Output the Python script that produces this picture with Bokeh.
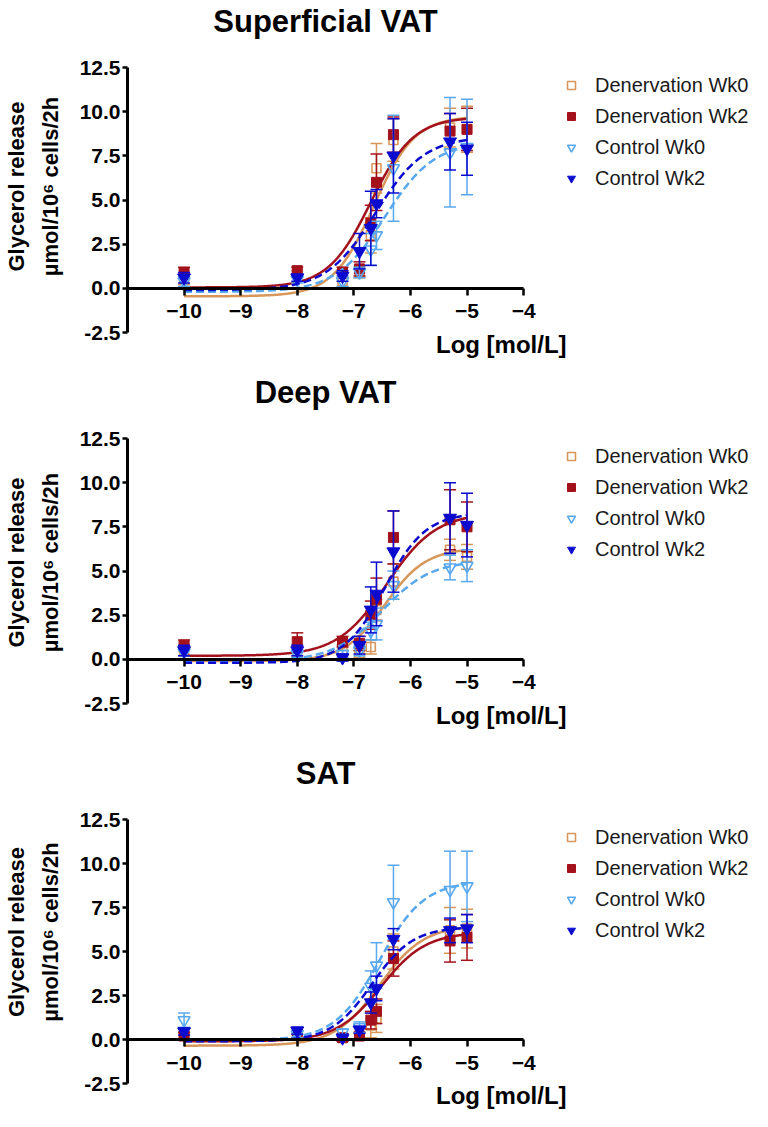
import numpy as np
from bokeh.plotting import figure
from bokeh.models import Range1d, FixedTicker, PrintfTickFormatter, Legend, LegendItem, Label, ColumnDataSource
from bokeh.layouts import column
from bokeh.embed import file_html
from bokeh.resources import INLINE

FONT = "Liberation Sans"

# ---------------- data ----------------
doses = [-10, -8, -7.2, -6.9, -6.7, -6.6, -6.3, -5.3, -5]
series_names = ["Denervation Wk0", "Denervation Wk2", "Control Wk0", "Control Wk2"]
x_ticks = [-10, -9, -8, -7, -6, -5, -4]
y_ticks = [-2.5, 0, 2.5, 5, 7.5, 10, 12.5]
x_axis_span = [-11, -4]
y_axis_span = [-2.5, 12.5]
panel_titles = ["Superficial VAT", "Deep VAT", "SAT"]
x_title = "Log [mol/L]"
y_title = "Glycerol release\nµmol/10⁶ cells/2h"

# Superficial VAT (mean, SEM)
sup_den_wk0 = [0.5, 0.8, 0.4, 0.9, 3.0, 6.8, 8.4, 9.1, 9.0]
sup_den_wk0_err = [0.3, 0.2, 0.3, 0.3, 1.0, 1.4, 1.2, 1.1, 1.3]
sup_den_wk2 = [0.9, 1.0, 0.9, 1.1, 3.7, 6.0, 8.7, 8.9, 9.0]
sup_den_wk2_err = [0.3, 0.2, 0.3, 0.4, 1.0, 1.6, 1.0, 1.0, 1.2]
sup_ctl_wk0 = [0.4, 0.5, 0.4, 0.9, 2.2, 3.0, 6.8, 7.7, 8.0]
sup_ctl_wk0_err = [0.3, 0.2, 0.3, 0.3, 0.9, 0.8, 3.0, 3.1, 2.7]
sup_ctl_wk2 = [0.6, 0.6, 0.7, 2.1, 3.4, 4.8, 7.5, 8.3, 7.9]
sup_ctl_wk2_err = [0.3, 0.2, 0.3, 1.0, 2.1, 0.8, 2.1, 1.6, 1.5]

# Deep VAT
deep_den_wk0 = [0.5, 0.3, 0.5, 0.3, 0.7, 2.8, 4.4, 6.2, 5.8]
deep_den_wk0_err = [0.3, 0.2, 0.3, 0.2, 0.4, 0.6, 1.0, 0.6, 0.7]
deep_den_wk2 = [0.8, 1.0, 1.0, 0.9, 2.5, 3.4, 6.9, 7.9, 7.5]
deep_den_wk2_err = [0.3, 0.5, 0.3, 0.4, 0.8, 1.2, 1.5, 1.7, 1.4]
deep_ctl_wk0 = [0.4, 0.3, 0.3, 0.5, 1.6, 2.0, 4.2, 5.2, 5.3]
deep_ctl_wk0_err = [0.2, 0.2, 0.2, 0.3, 0.5, 0.9, 0.8, 0.7, 0.9]
deep_ctl_wk2 = [0.5, 0.5, 0.1, 0.8, 2.8, 3.7, 6.1, 8.0, 7.6]
deep_ctl_wk2_err = [0.3, 0.3, 0.2, 0.5, 1.3, 1.8, 2.3, 2.0, 1.8]

# SAT
sat_den_wk0 = [0.2, 0.3, 0.1, 0.2, 0.8, 1.2, 5.0, 6.2, 6.3]
sat_den_wk0_err = [0.2, 0.2, 0.2, 0.2, 0.7, 0.8, 1.0, 1.3, 1.1]
sat_den_wk2 = [0.2, 0.3, 0.1, 0.2, 1.1, 1.6, 4.6, 5.6, 5.8]
sat_den_wk2_err = [0.2, 0.2, 0.2, 0.2, 0.5, 0.7, 1.0, 1.2, 1.3]
sat_ctl_wk0 = [1.1, 0.3, 0.4, 0.7, 3.0, 4.2, 7.8, 8.5, 8.7]
sat_ctl_wk0_err = [0.4, 0.2, 0.2, 0.3, 0.9, 1.3, 2.1, 2.2, 2.0]
sat_ctl_wk2 = [0.45, 0.5, 0.1, 0.55, 2.1, 2.9, 5.7, 6.2, 6.3]
sat_ctl_wk2_err = [0.2, 0.2, 0.1, 0.2, 0.6, 0.7, 0.6, 0.7, 0.8]

# fitted sigmoid parameters: [bottom, top, logEC50, hill]
sup_fit = [[-0.45, 9.75, -6.65, 1.2], [0.05, 9.7, -6.7, 1.15], [-0.2, 8.3, -6.45, 1.0], [-0.1, 8.6, -6.62, 1.0]]
deep_fit = [[-0.1, 6.3, -6.45, 1.2], [0.2, 8.3, -6.42, 1.0], [-0.1, 5.6, -6.5, 1.0], [-0.2, 8.3, -6.45, 1.2]]
sat_fit = [[-0.35, 6.5, -6.55, 1.1], [-0.1, 6.1, -6.52, 1.1], [-0.05, 9.0, -6.55, 1.1], [-0.1, 6.4, -6.68, 1.2]]
curve_span = [-10, -5]

# ---------------- styles ----------------
colors = ["#d8975a", "#a3121c", "#58a8ee", "#0b0bd0"]
markers = ["square", "square", "inverted_triangle", "inverted_triangle"]
filled = [False, True, False, True]
dashes = ["solid", "solid", "8 4", "8 4"]
msize = [9, 10, 12, 13]

FIG_W = 752
LEFT = 124          # left border (y axis + labels)
AXIS_W = 398        # pixel length of the x axis
LEG_X = 434         # legend left, px from y axis


def sigmoid(fit, xs):
    b, t, ec, h = fit
    return b + (t - b) / (1 + 10 ** ((ec - xs) * h))


def make_panel(title, vals, errs, fits, height, top_px, frame_px):
    # the data frame covers the whole figure right of the y axis; axes are bounded
    xppu = AXIS_W / (x_axis_span[1] - x_axis_span[0])
    yppu = frame_px / (y_axis_span[1] - y_axis_span[0])
    x_hi = x_axis_span[1] + (FIG_W - LEFT - AXIS_W) / xppu
    y_hi = y_axis_span[1] + top_px / yppu
    y_lo = y_axis_span[0] - (height - top_px - frame_px) / yppu

    p = figure(width=FIG_W, height=height, x_range=Range1d(x_axis_span[0], x_hi),
               y_range=Range1d(y_lo, y_hi),
               output_backend="svg", toolbar_location=None,
               min_border_left=LEFT, min_border_right=0,
               min_border_top=0, min_border_bottom=0)
    p.outline_line_color = None
    p.grid.visible = False
    p.background_fill_color = "white"
    p.border_fill_color = "white"

    # axes
    xa = p.xaxis[0]
    xa.fixed_location = 0
    xa.bounds = tuple(x_axis_span)
    xa.ticker = FixedTicker(ticks=x_ticks)
    xa.axis_line_width = 3
    xa.major_tick_line_width = 2.5
    xa.major_tick_out = 7
    xa.major_tick_in = 0
    xa.minor_tick_line_color = None
    xa.major_label_standoff = 9
    xa.major_label_text_font = FONT
    xa.major_label_text_font_style = "bold"
    xa.major_label_text_font_size = "21px"
    xa.major_label_text_color = "black"

    ya = p.yaxis[0]
    ya.bounds = tuple(y_axis_span)
    ya.ticker = FixedTicker(ticks=y_ticks)
    ya.formatter = PrintfTickFormatter(format="%.1f")
    ya.axis_line_width = 3
    ya.major_tick_line_width = 2.5
    ya.major_tick_out = 5
    ya.major_tick_in = 0
    ya.minor_tick_line_color = None
    ya.major_label_standoff = 2
    ya.major_label_text_font = FONT
    ya.major_label_text_font_style = "bold"
    ya.major_label_text_font_size = "21px"
    ya.major_label_text_color = "black"
    ya.axis_label = y_title
    ya.axis_label_text_font = FONT
    ya.axis_label_text_font_style = "bold"
    ya.axis_label_text_font_size = "22px"
    ya.axis_label_text_line_height = 1.35
    ya.axis_label_standoff = 14
    ya.axis_label_text_color = "black"

    items = []
    xs = np.linspace(curve_span[0], curve_span[1], 300)
    for i in range(4):
        x = np.array(doses, dtype=float)
        y = np.array(vals[i], dtype=float)
        e = np.array(errs[i], dtype=float)
        src = ColumnDataSource(dict(x=x, y=y, lo=y - e, hi=y + e))
        c = colors[i]
        p.segment(x0="x", y0="lo", x1="x", y1="hi", source=src, line_color=c, line_width=1.5)
        p.scatter(x="x", y="lo", marker="dash", size=12, line_color=c, line_width=1.5, source=src)
        p.scatter(x="x", y="hi", marker="dash", size=12, line_color=c, line_width=1.5, source=src)
        p.line(xs, sigmoid(fits[i], xs), line_color=c, line_width=2.5, line_dash=dashes[i])
        if filled[i]:
            r = p.scatter(x="x", y="y", marker=markers[i], size=msize[i], fill_color=c,
                          line_color=c, line_width=1, source=src)
        else:
            r = p.scatter(x="x", y="y", marker=markers[i], size=msize[i], fill_alpha=0,
                          line_color=c, line_width=1.6, source=src)
        items.append(LegendItem(label=series_names[i], renderers=[r]))

    leg_h = 4 * 26 + 3 * 5
    leg = Legend(items=items, location=(LEG_X, height - (top_px + 5 + leg_h)),
                 padding=0, margin=0, spacing=5,
                 glyph_width=20, glyph_height=26, label_height=26, label_standoff=14,
                 label_text_font=FONT, label_text_font_size="20px", label_text_color="#1a1a1a",
                 border_line_color=None, background_fill_alpha=0)
    p.add_layout(leg)

    p.add_layout(Label(x=(x_axis_span[0] + x_axis_span[1]) / 2, y=y_axis_span[1], y_offset=46,
                       text=title, text_align="center",
                       text_baseline="middle", text_font=FONT, text_font_style="bold",
                       text_font_size="31px", text_color="black"))
    p.add_layout(Label(x=x_axis_span[1], y=y_axis_span[0], x_offset=43, y_offset=-12, text=x_title,
                       text_align="right", text_baseline="middle", text_font=FONT,
                       text_font_style="bold", text_font_size="24px", text_color="black"))
    return p


p1 = make_panel(panel_titles[0],
                [sup_den_wk0, sup_den_wk2, sup_ctl_wk0, sup_ctl_wk2],
                [sup_den_wk0_err, sup_den_wk2_err, sup_ctl_wk0_err, sup_ctl_wk2_err],
                sup_fit, 372, 67, 265)
p2 = make_panel(panel_titles[1],
                [deep_den_wk0, deep_den_wk2, deep_ctl_wk0, deep_ctl_wk2],
                [deep_den_wk0_err, deep_den_wk2_err, deep_ctl_wk0_err, deep_ctl_wk2_err],
                deep_fit, 380, 66, 265)
p3 = make_panel(panel_titles[2],
                [sat_den_wk0, sat_den_wk2, sat_ctl_wk0, sat_ctl_wk2],
                [sat_den_wk0_err, sat_den_wk2_err, sat_ctl_wk0_err, sat_ctl_wk2_err],
                sat_fit, 359, 67, 264)

layout = column(p1, p2, p3, spacing=0)
open("out.html", "w").write(file_html(layout, INLINE))
